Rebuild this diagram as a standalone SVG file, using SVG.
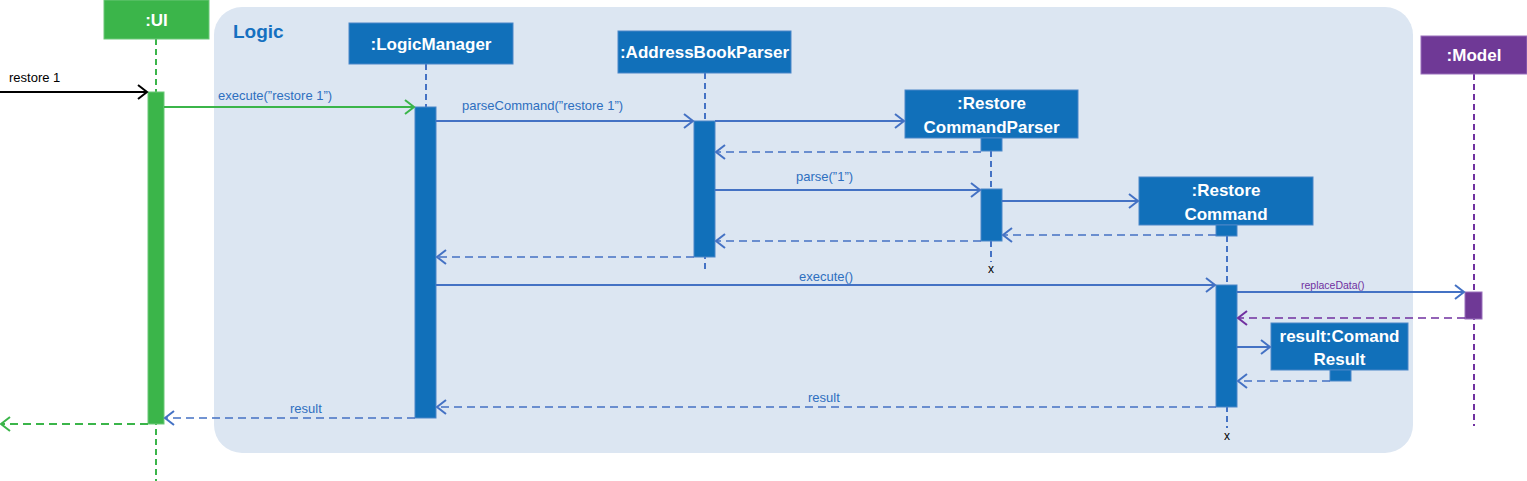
<svg xmlns="http://www.w3.org/2000/svg" width="1527" height="481" viewBox="0 0 1527 481">
<defs>
<marker id="ab" markerWidth="14" markerHeight="16" refX="11" refY="8" orient="auto" markerUnits="userSpaceOnUse"><path d="M2,1 L11,8 L2,15" fill="none" stroke="#4472C4" stroke-width="2"/></marker>
<marker id="ag" markerWidth="14" markerHeight="16" refX="11" refY="8" orient="auto" markerUnits="userSpaceOnUse"><path d="M2,1 L11,8 L2,15" fill="none" stroke="#3BB54A" stroke-width="2"/></marker>
<marker id="ak" markerWidth="14" markerHeight="16" refX="11" refY="8" orient="auto" markerUnits="userSpaceOnUse"><path d="M2,1 L11,8 L2,15" fill="none" stroke="#000" stroke-width="2"/></marker>
<marker id="ap" markerWidth="14" markerHeight="16" refX="11" refY="8" orient="auto" markerUnits="userSpaceOnUse"><path d="M2,1 L11,8 L2,15" fill="none" stroke="#7030A0" stroke-width="2"/></marker>
</defs>
<style>
text{font-family:"Liberation Sans","Noto Sans",sans-serif}
.box{fill:#1170BA;stroke:#4A86C8;stroke-width:1}
.bt{fill:#fff;font-weight:bold;font-size:17px;text-anchor:middle}
.act{fill:#1170BA;stroke:#4A86C8;stroke-width:1}
.life{stroke:#4472C4;stroke-width:2;stroke-dasharray:6,4;fill:none}
.msg{stroke:#4472C4;stroke-width:2;fill:none;marker-end:url(#ab)}
.ret{stroke:#4472C4;stroke-width:1.5;stroke-dasharray:8,5;fill:none;marker-end:url(#ab)}
.lbl{fill:#2E6FC0;font-size:13px}
.x{fill:#000;font-size:12px;text-anchor:middle}
</style>
<rect id="logic-frame" x="214" y="7" width="1199" height="446" rx="28" fill="#DCE6F2"/>
<text x="233" y="38" fill="#1570C0" font-size="19" font-weight="bold">Logic</text>

<g id="lifelines">
<line x1="156" y1="39" x2="156" y2="481" stroke="#3BB54A" stroke-width="2" stroke-dasharray="6,4"/>
<line class="life" x1="426" y1="64" x2="426" y2="107"/>
<line class="life" x1="705" y1="73" x2="705" y2="272"/>
<line class="life" x1="991" y1="151" x2="991" y2="262" stroke-width="1.5"/>
<line class="life" x1="1227" y1="236" x2="1227" y2="428"/>
<line x1="1474" y1="74" x2="1474" y2="426" stroke="#7030A0" stroke-width="2" stroke-dasharray="6,4"/>
</g>

<g id="ui">
<rect x="104" y="0" width="105" height="39" fill="#3BB54A" stroke="#6CC878"/>
<text class="bt" x="156.5" y="26" font-size="14">:UI</text>
<rect x="148" y="92" width="16" height="332" fill="#3BB54A" stroke="#6CC878"/>
</g>
<g id="logicmanager">
<rect class="box" x="349" y="23" width="164" height="41"/>
<text class="bt" x="431" y="50">:LogicManager</text>
<rect class="act" x="415" y="107" width="21" height="311"/>
</g>
<g id="addressbookparser">
<rect class="box" x="618" y="31" width="173" height="42"/>
<text class="bt" x="704.5" y="58">:AddressBookParser</text>
<rect class="act" x="694" y="121" width="21" height="136"/>
</g>
<g id="restorecommandparser">
<rect class="box" x="905" y="90" width="173" height="48"/>
<text class="bt" x="991.5" y="109">:Restore</text>
<text class="bt" x="991.5" y="133">CommandParser</text>
<rect class="act" x="981" y="138" width="21" height="13"/>
<rect class="act" x="981" y="189" width="21" height="52"/>
<text class="x" x="991" y="273">x</text>
</g>
<g id="restorecommand">
<rect class="box" x="1139" y="177" width="174" height="48"/>
<text class="bt" x="1226" y="196">:Restore</text>
<text class="bt" x="1226" y="220">Command</text>
<rect class="act" x="1216" y="225" width="21" height="11"/>
<rect class="act" x="1216" y="285" width="21" height="122"/>
<text class="x" x="1227" y="440">x</text>
</g>
<g id="model">
<rect x="1421" y="36" width="106" height="38" fill="#6F3996" stroke="#9A70BC"/>
<text class="bt" x="1474" y="61" font-size="14">:Model</text>
<rect x="1465" y="292" width="17" height="27" fill="#6F3996" stroke="#9A70BC"/>
</g>
<g id="commandresult">
<rect class="box" x="1271" y="323" width="137" height="47"/>
<text class="bt" x="1339.5" y="342">result:Comand</text>
<text class="bt" x="1339.5" y="365">Result</text>
<rect class="act" x="1330" y="370" width="21" height="11"/>
</g>

<g id="connectors">
<line x1="0" y1="92" x2="147" y2="92" stroke="#000" stroke-width="2" marker-end="url(#ak)"/>
<text x="9" y="82" font-size="13" fill="#000">restore 1</text>
<line x1="164" y1="107" x2="414" y2="107" stroke="#3BB54A" stroke-width="2" marker-end="url(#ag)"/>
<text class="lbl" x="218" y="100">execute(”restore 1”)</text>
<line class="msg" x1="436" y1="121" x2="693" y2="121"/>
<text class="lbl" x="462" y="110">parseCommand(”restore 1”)</text>
<line class="msg" x1="715" y1="121" x2="904" y2="121"/>
<line class="ret" x1="981" y1="152" x2="716" y2="152"/>
<line class="msg" x1="715" y1="190" x2="980" y2="190"/>
<text class="lbl" x="796" y="181">parse(”1”)</text>
<line class="msg" x1="1002" y1="201" x2="1138" y2="201"/>
<line class="ret" x1="1216" y1="235" x2="1003" y2="235"/>
<line class="ret" x1="981" y1="241" x2="716" y2="241" stroke-width="1.2"/>
<line class="ret" x1="694" y1="257" x2="437" y2="257" stroke-width="1.2"/>
<line class="msg" x1="436" y1="285" x2="1215" y2="285"/>
<text class="lbl" x="799" y="281">execute()</text>
<line class="msg" x1="1237" y1="292" x2="1464" y2="292"/>
<text x="1301" y="289" fill="#7030A0" font-size="10.5">replaceData()</text>
<line x1="1465" y1="318" x2="1238" y2="318" stroke="#7030A0" stroke-width="1.5" stroke-dasharray="8,5" marker-end="url(#ap)"/>
<line class="msg" x1="1237" y1="347" x2="1270" y2="347"/>
<line class="ret" x1="1330" y1="381" x2="1238" y2="381" stroke-width="1.2"/>
<line class="ret" x1="1216" y1="407" x2="437" y2="407" stroke-width="1.2"/>
<text class="lbl" x="808" y="402">result</text>
<line class="ret" x1="415" y1="418" x2="165" y2="418" stroke-width="2"/>
<text class="lbl" x="290" y="413">result</text>
<line x1="148" y1="424" x2="1" y2="424" stroke="#3BB54A" stroke-width="2" stroke-dasharray="8,5" marker-end="url(#ag)"/>
</g>
</svg>
